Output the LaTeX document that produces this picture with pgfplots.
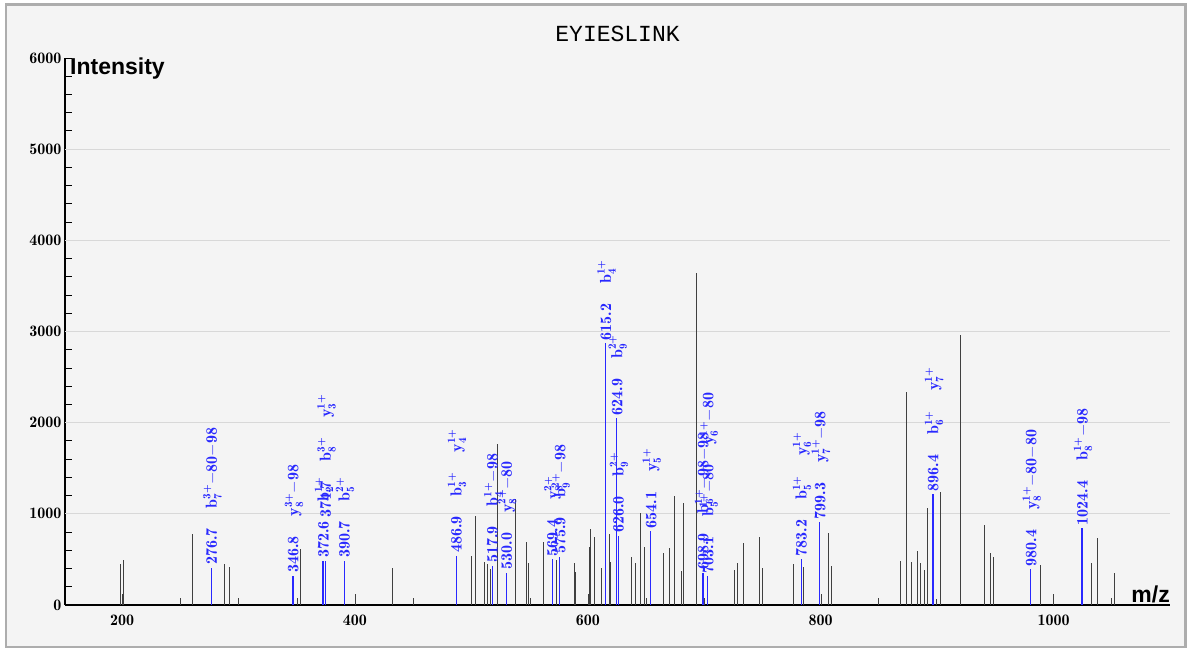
\RequirePackage{fix-cm}
\documentclass[border=0pt]{standalone}
\usepackage{pgfplots}
\pgfplotsset{compat=1.18}
\usepackage{amsmath}
\usepackage{fontspec}
\newfontfamily\labelsans{Liberation Sans}
\newfontfamily\titlemono{Liberation Mono}
\newfontfamily\demi{lmromandemi10-regular}[Extension=.otf]

\definecolor{panel}{HTML}{F4F4F4}
\definecolor{rim}{HTML}{ADADAD}
\definecolor{peak}{HTML}{404040}
\definecolor{hit}{HTML}{2828FF}
\definecolor{gridgray}{HTML}{D8D8D8}

% ion annotation: letter, index, charge
\newcommand{\ion}[3]{#1$_{\text{#2}}^{\text{#3}}$}
\newcommand{\mn}{$-$}
\newcommand{\gp}{\hspace{20pt}}

\begin{document}
\begin{tikzpicture}[x=1pt,y=1pt,
  lbl/.style={rotate=90, anchor=west, text=hit, font=\demi\fontsize{16}{18}\selectfont,
    inner xsep=3pt, inner ysep=0pt, text height=11pt, text depth=0pt}]
\useasboundingbox (0,0) rectangle (1188,648);
\draw[rim, line width=2.5pt, fill=panel] (6.2,1.2) rectangle (1185.5,643.4);
\begin{axis}[
  at={(65pt,43pt)}, anchor=south west,
  scale only axis, width=1105pt, height=547pt,
  xmin=151, xmax=1100, ymin=0, ymax=6000,
  axis x line*=bottom, axis y line*=left,
  axis line style={black, line width=1.3pt, -},
  xtick={200,400,...,1000}, xtick style={draw=none},
  ytick={0,1000,...,6000}, minor y tick num=4,
  tick align=inside, major tick length=7pt, minor tick length=7pt,
  ytick style={black, line width=0.9pt},
  tick label style={font=\demi\fontsize{16}{18}\selectfont},
  /pgf/number format/assume math mode=true,
  /pgf/number format/1000 sep={},
  scaled ticks=false,
  xticklabel style={yshift=-6pt},
  extra y ticks={1000,2000,3000,4000,5000}, extra y tick labels={},
  extra y tick style={grid=major, major tick length=0pt},
  grid style={gridgray, line width=1pt},
  clip=false,
  title={EYIESLINK},
  title style={font=\titlemono\fontsize{23}{25}\selectfont, at={(0.5,1)}, anchor=base, yshift=11pt},
  xlabel={m/z}, ylabel={Intensity},
  every axis x label/.style={at={(rel axis cs:1,0)}, anchor=base east, yshift=3pt,
    inner sep=0pt, font=\labelsans\bfseries\fontsize{23}{25}\selectfont},
  every axis y label/.style={at={(rel axis cs:0,1)}, anchor=north west, xshift=5pt,
    inner sep=0pt, font=\labelsans\bfseries\fontsize{23}{25}\selectfont},
]

% unmatched peaks
\addplot[ycomb, draw=peak, line width=1pt, no markers] coordinates {
  (198.9,450) (200.6,120) (201.1,493) (250.6,73) (260.3,775) (288.1,450)
  (292.1,413) (300.4,73) (350.8,73) (353.1,610) (400.3,120) (432.4,404)
  (450.4,73) (500.2,541) (503.6,976) (511.0,475) (514.2,446) (516.2,395)
  (522.1,1763) (538.0,1166) (547.4,694) (548.8,464) (550.5,73) (561.6,690)
  (573.0,492) (588.6,464) (589.7,365) (600.2,117) (601.1,640) (602.5,830)
  (606.0,746) (611.8,402) (618.3,775) (619.7,475) (637.5,530) (640.6,466)
  (645.2,1010) (648.6,640) (650.0,73) (665.0,570) (670.2,628) (674.1,1195)
  (680.4,376) (682.1,1118) (693.3,3637) (700.0,73) (726.3,380) (728.8,464)
  (733.4,685) (747.1,745) (749.9,402) (776.6,450) (785.1,413) (800.3,117)
  (806.6,795) (809.2,433) (850.0,73) (868.1,482) (874.1,2339) (877.8,470)
  (883.0,588) (886.1,460) (889.0,384) (892.1,1060) (899.8,70) (903.3,1239)
  (920.2,2960) (941.0,874) (945.9,570) (948.8,526) (988.9,439) (999.7,121)
  (1032.9,460) (1038.0,731) (1049.5,73) (1052.1,347)
};

% matched fragment ions
\addplot[ycomb, draw=hit, line width=1.1pt, no markers] coordinates {
  (276.7,406) (346.8,318) (372.6,486) (374.7,486) (390.7,486) (486.9,541)
  (517.9,431) (530.0,356) (569.4,500) (575.9,530) (615.2,2870) (624.9,2047)
  (626.0,760) (654.1,808) (698.9,354) (703.1,315) (783.2,501) (799.3,905)
  (896.4,1215) (980.4,391) (1024.4,841)
};

\node[lbl] at (axis cs:276.7,406) {276.7\gp\ion{b}{7}{3+}\mn80\mn98};
\node[lbl] at (axis cs:346.8,318) {346.8\gp\ion{y}{8}{3+}\mn98};
\node[lbl] at (axis cs:372.6,486) {372.6\gp\ion{b}{2}{1+}};
\node[lbl] at (axis cs:374.7,921) {374.7\gp\ion{b}{8}{3+}\gp\ion{y}{3}{1+}};
\node[lbl] at (axis cs:390.7,486) {390.7\gp\ion{b}{5}{2+}};
\node[lbl] at (axis cs:486.9,541) {486.9\gp\ion{b}{3}{1+}\gp\ion{y}{4}{1+}};
\node[lbl] at (axis cs:517.9,431) {517.9\gp\ion{b}{4}{1+}\mn98};
\node[lbl] at (axis cs:530.0,356) {530.0\gp\ion{y}{8}{2+}\mn80};
\node[lbl] at (axis cs:569.4,500) {569.4\gp\ion{y}{8}{2+}};
\node[lbl] at (axis cs:575.9,530) {575.9\gp\ion{b}{9}{2+}\mn98};
\node[lbl] at (axis cs:615.2,2870) {615.2\gp\ion{b}{4}{1+}};
\node[lbl] at (axis cs:624.9,2047) {624.9\gp\ion{b}{9}{2+}};
\node[lbl] at (axis cs:626.0,760) {626.0\gp\ion{b}{9}{2+}};
\node[lbl] at (axis cs:654.1,808) {654.1\gp\ion{y}{5}{1+}};
\node[lbl] at (axis cs:698.9,354) {698.9\gp\ion{b}{6}{1+}\mn98\mn98};
\node[lbl] at (axis cs:703.1,315) {703.1\gp\ion{b}{5}{1+}\mn80\gp\ion{y}{6}{1+}\mn80};
\node[lbl] at (axis cs:783.2,501) {783.2\gp\ion{b}{5}{1+}\gp\ion{y}{6}{1+}};
\node[lbl] at (axis cs:799.3,905) {799.3\gp\ion{y}{7}{1+}\mn98};
\node[lbl] at (axis cs:896.4,1215) {896.4\gp\ion{b}{6}{1+}\gp\ion{y}{7}{1+}};
\node[lbl] at (axis cs:980.4,391) {980.4\gp\ion{y}{8}{1+}\mn80\mn80};
\node[lbl] at (axis cs:1024.4,841) {1024.4\gp\ion{b}{8}{1+}\mn98};
\end{axis}
\end{tikzpicture}
\end{document}
